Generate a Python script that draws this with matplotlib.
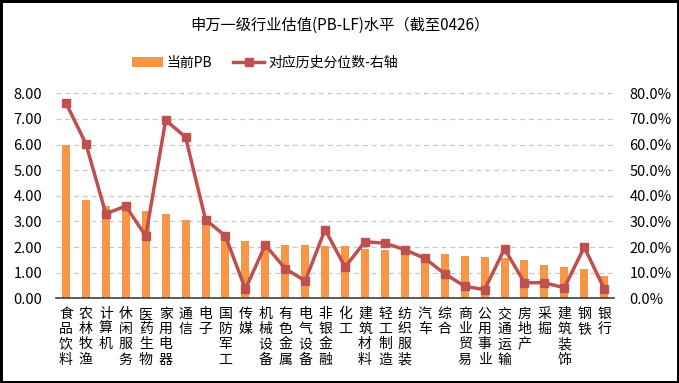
import numpy as np
import matplotlib.pyplot as plt
from matplotlib.ticker import FuncFormatter

plt.rcParams['font.family'] = ['Noto Sans CJK SC', 'DejaVu Sans']

# --- 数据 ---
industries = ['食品饮料', '农林牧渔', '计算机', '休闲服务', '医药生物', '家用电器', '通信',
              '电子', '国防军工', '传媒', '机械设备', '有色金属', '电气设备', '非银金融',
              '化工', '建筑材料', '轻工制造', '纺织服装', '汽车', '综合', '商业贸易',
              '公用事业', '交通运输', '房地产', '采掘', '建筑装饰', '钢铁', '银行']
pb_now = [5.99, 3.83, 3.60, 3.52, 3.41, 3.30, 3.07, 3.05, 2.48, 2.25, 2.15, 2.08, 2.08, 2.05,
          2.05, 1.92, 1.87, 1.82, 1.74, 1.74, 1.64, 1.60, 1.56, 1.50, 1.30, 1.22, 1.13, 0.86]
pct_hist = [76.2, 60.3, 33.0, 36.0, 24.3, 69.5, 62.9, 30.7, 24.3, 3.6, 20.8, 11.6, 6.8, 26.8,
            12.2, 22.1, 21.5, 19.0, 15.6, 9.6, 4.7, 3.4, 19.3, 6.1, 6.1, 4.1, 20.0, 3.7]

bar_color = '#F79646'
line_color = '#C0504D'

fig = plt.figure(figsize=(6.79, 3.83), dpi=100)
ax = fig.add_axes([0.0825, 0.2211, 0.822, 0.5353])
x = np.arange(len(industries))

bars = ax.bar(x, pb_now, width=0.4, color=bar_color, zorder=2, label='当前PB')
ax.set_xlim(-0.5, len(industries) - 0.5)
ax.set_ylim(0, 8)
ax.set_yticks(np.arange(0, 9, 1))
ax.yaxis.set_major_formatter(FuncFormatter(lambda v, p: f'{v:.2f}'))
ax.yaxis.grid(True, linestyle=(0, (4, 3)), color='#C8C8C8', linewidth=0.9, zorder=0)
ax.set_axisbelow(True)
for s in ['top', 'left', 'right']:
    ax.spines[s].set_visible(False)
ax.spines['bottom'].set_color('#404040')
ax.spines['bottom'].set_linewidth(1.2)
ax.tick_params(axis='y', length=0, pad=10, labelsize=10.5)
ax.tick_params(axis='x', length=0, pad=6)
ax.set_xticks(x)
ax.set_xticklabels(['\n'.join(n) for n in industries], fontsize=10,
                   linespacing=1.12, va='top')

ax2 = ax.twinx()
line, = ax2.plot(x, pct_hist, color=line_color, linewidth=2.5, marker='s', markersize=6,
                 zorder=3, label='对应历史分位数-右轴')
ax2.set_ylim(0, 80)
ax2.set_yticks(np.arange(0, 81, 10))
ax2.yaxis.set_major_formatter(FuncFormatter(lambda v, p: f'{v:.1f}%'))
for s in ['top', 'left', 'right', 'bottom']:
    ax2.spines[s].set_visible(False)
ax2.tick_params(axis='y', length=0, pad=11, labelsize=10.5)

fig.suptitle('申万一级行业估值(PB-LF)水平（截至0426）', fontsize=11, y=0.955)
fig.legend([bars, line], ['当前PB', '对应历史分位数-右轴'], loc='center',
           bbox_to_anchor=(0.39, 0.835), ncol=2, frameon=False, fontsize=10,
           handlelength=2.2, columnspacing=1.5, handletextpad=0.3)

fig.patch.set_edgecolor('black')
fig.patch.set_linewidth(2.5)
fig.savefig('out.png', dpi=100)
